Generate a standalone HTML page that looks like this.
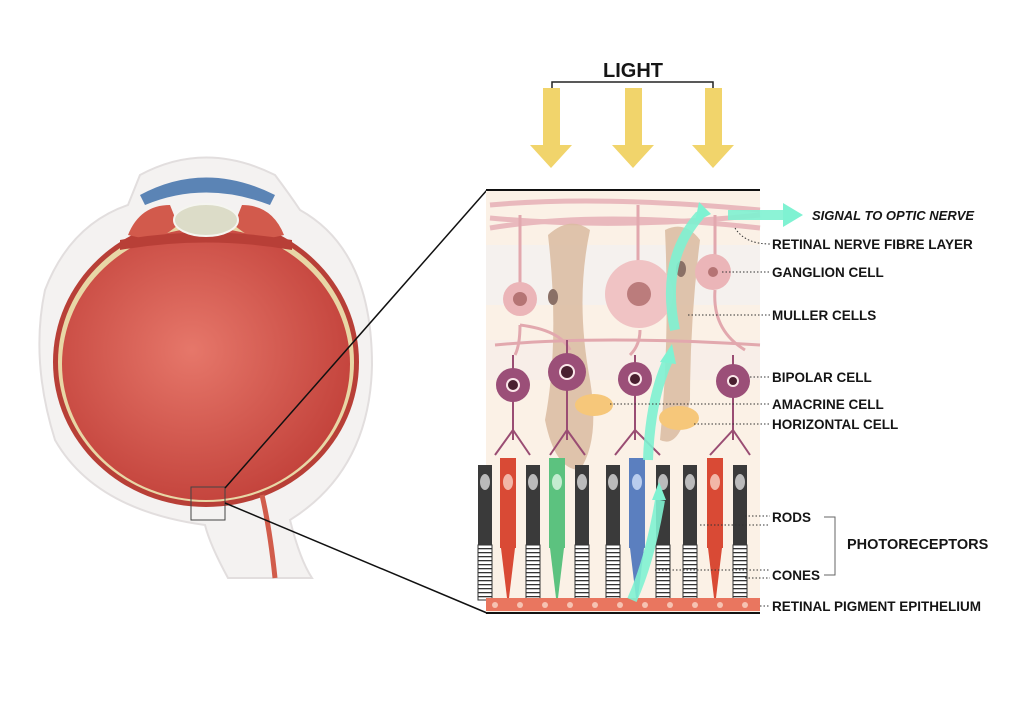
<!DOCTYPE html>
<html><head><meta charset="utf-8"><style>
html,body{margin:0;padding:0;background:#fff;width:1024px;height:724px;overflow:hidden}
svg{display:block}
text{font-family:"Liberation Sans",sans-serif;font-weight:bold;fill:#151515}
</style></head><body>
<svg width="1024" height="724" viewBox="0 0 1024 724">
<defs>
<radialGradient id="rg" cx="0.45" cy="0.45" r="0.6"><stop offset="0" stop-color="#e6776a"/><stop offset="1" stop-color="#c2413a"/></radialGradient>
<pattern id="st" width="10" height="4" patternUnits="userSpaceOnUse"><rect width="10" height="4" fill="#fff"/><rect y="0" width="10" height="1.3" fill="#333"/></pattern>
</defs>
<!-- eye outer -->
<path d="M140,175 Q205,140 275,175 Q290,195 300,210 Q372,250 372,365 Q370,470 290,520 Q300,560 312,578 L228,578 Q210,545 205,525 Q95,510 55,440 Q30,360 45,290 Q70,225 128,205 Z" fill="#f4f2f1" stroke="#e2dede" stroke-width="2"/>
<ellipse cx="206" cy="362" rx="153" ry="145" fill="#b83f37"/>
<ellipse cx="206" cy="362" rx="148" ry="140" fill="#e8d7a6"/>
<ellipse cx="206" cy="364" rx="144" ry="136" fill="url(#rg)"/>
<!-- front -->
<path d="M140,195 Q205,160 275,195 L270,205 Q205,180 145,205 Z" fill="#5b84b5"/>
<path d="M128,235 Q140,205 170,205 L178,225 Q160,240 150,240 Z" fill="#d25a4c"/>
<path d="M284,235 Q272,205 242,205 L234,225 Q252,240 262,240 Z" fill="#d25a4c"/>
<path d="M120,240 Q206,225 292,240 L292,250 Q206,235 120,250Z" fill="#b83f37"/>
<ellipse cx="206" cy="220" rx="32" ry="16" fill="#dcdcc8" stroke="#f5f5f0" stroke-width="2"/>
<path d="M262,495 Q270,530 275,578" stroke="#d15c4b" stroke-width="5" fill="none"/>
<rect x="191" y="487" width="34" height="33" fill="none" stroke="#444" stroke-width="1"/>
<line x1="225" y1="488" x2="487" y2="190" stroke="#111" stroke-width="1.5"/>
<line x1="225" y1="503" x2="487" y2="613" stroke="#111" stroke-width="1.5"/>
<!-- light -->
<text x="633" y="77" font-size="20" text-anchor="middle">LIGHT</text>
<path d="M552,88 V82 H713 V88" stroke="#222" stroke-width="1.5" fill="none"/>
<g fill="#f1d46b">
<path d="M543,88 h17 v57 h12 l-21,23 l-21,-23 h13z"/>
<path d="M625,88 h17 v57 h12 l-21,23 l-21,-23 h13z"/>
<path d="M705,88 h17 v57 h12 l-21,23 l-21,-23 h13z"/>
</g>
<!-- panel -->
<rect x="486" y="191" width="274" height="421" fill="#fbf1e6"/>
<rect x="486" y="245" width="274" height="60" fill="#f5f1ee"/>
<rect x="486" y="340" width="274" height="40" fill="#f8eee8"/>
<line x1="486" y1="190" x2="760" y2="190" stroke="#111" stroke-width="2"/>
<line x1="486" y1="613" x2="760" y2="613" stroke="#111" stroke-width="2"/>
<!-- nerve fibres -->
<g stroke="#e9b9bd" stroke-width="5" fill="none">
<path d="M490,205 Q600,195 760,210"/><path d="M490,218 Q620,230 760,215"/><path d="M490,228 Q600,210 760,228"/>
</g>
<!-- muller -->
<g fill="#d9bba0" opacity="0.85">
<path d="M548,235 Q570,215 590,230 Q575,300 590,380 Q600,440 580,470 Q555,470 545,420 Q560,340 548,235Z"/>
<path d="M665,230 Q685,220 700,240 Q690,320 690,400 Q680,450 660,440 Q670,340 665,230Z"/>
</g>
<ellipse cx="553" cy="297" rx="5" ry="8" fill="#8a7066"/>
<ellipse cx="681" cy="269" rx="5" ry="8" fill="#8a7066"/>
<!-- ganglion -->
<g stroke="#e2a8ae" stroke-width="3" fill="none">
<path d="M520,300 V215"/><path d="M638,280 V205"/><path d="M715,270 V215"/>
<path d="M520,325 Q520,345 515,355 M520,325 Q560,330 570,350 M640,330 Q640,345 630,355 M715,290 Q712,330 745,350"/>
<path d="M495,345 Q600,335 760,345"/>
</g>
<circle cx="520" cy="299" r="17" fill="#ebb5b8"/><circle cx="520" cy="299" r="7" fill="#b57474"/>
<circle cx="639" cy="294" r="34" fill="#f0c3c4"/><circle cx="639" cy="294" r="12" fill="#bb7c7c"/>
<circle cx="713" cy="272" r="18" fill="#ebb5b8"/><circle cx="713" cy="272" r="5" fill="#b57474"/>
<!-- bipolar -->
<g stroke="#9a4d73" stroke-width="2" fill="none">
<path d="M513,355 V440 M567,340 V440 M635,355 V440 M733,355 V440"/>
<path d="M513,430 L495,455 M513,430 L530,455 M567,430 L550,455 M567,430 L585,455 M635,430 L615,455 M635,430 L660,455 M733,430 L710,455 M733,430 L750,455"/>
</g>
<g fill="#9b4f78">
<circle cx="513" cy="385" r="17"/><circle cx="567" cy="372" r="19"/><circle cx="635" cy="379" r="17"/><circle cx="733" cy="381" r="17"/>
</g>
<g fill="#fbe7ea"><circle cx="513" cy="385" r="7"/><circle cx="567" cy="372" r="8"/><circle cx="635" cy="379" r="7"/><circle cx="733" cy="381" r="6"/></g>
<g fill="#4a2030"><circle cx="513" cy="385" r="5"/><circle cx="567" cy="372" r="6"/><circle cx="635" cy="379" r="5"/><circle cx="733" cy="381" r="4"/></g>
<ellipse cx="594" cy="405" rx="19" ry="11" fill="#f6c77a"/>
<ellipse cx="679" cy="418" rx="20" ry="12" fill="#f6c77a"/>
<!-- photoreceptors -->
<g>
<g transform="translate(485,0)"><rect x="-7" y="465" width="14" height="80" fill="#3a3a3a"/><ellipse cx="0" cy="482" rx="5" ry="8" fill="#bbb"/><rect x="-7" y="545" width="14" height="55" fill="url(#st)" stroke="#333"/></g>
<g transform="translate(508,0)"><rect x="-8" y="458" width="16" height="90" fill="#d94a35"/><ellipse cx="0" cy="482" rx="5" ry="8" fill="#f2b7a8"/><path d="M-7,548 h14 l-6,50 h-2z" fill="#d94a35"/></g>
<g transform="translate(533,0)"><rect x="-7" y="465" width="14" height="80" fill="#3a3a3a"/><ellipse cx="0" cy="482" rx="5" ry="8" fill="#bbb"/><rect x="-7" y="545" width="14" height="55" fill="url(#st)" stroke="#333"/></g>
<g transform="translate(557,0)"><rect x="-8" y="458" width="16" height="90" fill="#5cc27f"/><ellipse cx="0" cy="482" rx="5" ry="8" fill="#c3ecd0"/><path d="M-7,548 h14 l-6,50 h-2z" fill="#5cc27f"/></g>
<g transform="translate(582,0)"><rect x="-7" y="465" width="14" height="80" fill="#3a3a3a"/><ellipse cx="0" cy="482" rx="5" ry="8" fill="#bbb"/><rect x="-7" y="545" width="14" height="55" fill="url(#st)" stroke="#333"/></g>
<g transform="translate(613,0)"><rect x="-7" y="465" width="14" height="80" fill="#3a3a3a"/><ellipse cx="0" cy="482" rx="5" ry="8" fill="#bbb"/><rect x="-7" y="545" width="14" height="55" fill="url(#st)" stroke="#333"/></g>
<g transform="translate(637,0)"><rect x="-8" y="458" width="16" height="90" fill="#5b7fbf"/><ellipse cx="0" cy="482" rx="5" ry="8" fill="#b9cdee"/><path d="M-7,548 h14 l-6,50 h-2z" fill="#5b7fbf"/></g>
<g transform="translate(663,0)"><rect x="-7" y="465" width="14" height="80" fill="#3a3a3a"/><ellipse cx="0" cy="482" rx="5" ry="8" fill="#bbb"/><rect x="-7" y="545" width="14" height="55" fill="url(#st)" stroke="#333"/></g>
<g transform="translate(690,0)"><rect x="-7" y="465" width="14" height="80" fill="#3a3a3a"/><ellipse cx="0" cy="482" rx="5" ry="8" fill="#bbb"/><rect x="-7" y="545" width="14" height="55" fill="url(#st)" stroke="#333"/></g>
<g transform="translate(715,0)"><rect x="-8" y="458" width="16" height="90" fill="#d94a35"/><ellipse cx="0" cy="482" rx="5" ry="8" fill="#f2b7a8"/><path d="M-7,548 h14 l-6,50 h-2z" fill="#d94a35"/></g>
<g transform="translate(740,0)"><rect x="-7" y="465" width="14" height="80" fill="#3a3a3a"/><ellipse cx="0" cy="482" rx="5" ry="8" fill="#bbb"/><rect x="-7" y="545" width="14" height="55" fill="url(#st)" stroke="#333"/></g>
</g>
<!-- RPE -->
<rect x="486" y="598" width="274" height="13" fill="#e9765f"/>
<g fill="#f6c3b2"><circle cx="495" cy="605" r="3"/><circle cx="520" cy="605" r="3"/><circle cx="545" cy="605" r="3"/><circle cx="570" cy="605" r="3"/><circle cx="595" cy="605" r="3"/><circle cx="620" cy="605" r="3"/><circle cx="645" cy="605" r="3"/><circle cx="670" cy="605" r="3"/><circle cx="695" cy="605" r="3"/><circle cx="720" cy="605" r="3"/><circle cx="745" cy="605" r="3"/></g>
<!-- signal arrow -->
<g fill="none" stroke="#7ff2d2" stroke-width="10" opacity="0.9">
<path d="M632,600 Q650,560 660,500"/>
<path d="M648,460 Q650,400 668,360"/>
<path d="M675,330 Q660,260 700,215"/>
<path d="M728,215 H785"/>
</g>
<g fill="#7ff2d2"><path d="M652,500 l14,0 l-7,-18z"/><path d="M660,362 l16,2 l-4,-20z"/><path d="M695,222 l16,-8 l-12,-12z"/><path d="M783,203 l20,12 l-20,12z"/></g>
<!-- labels -->
<g font-size="13.5">
<text x="812" y="220" font-style="italic" font-size="13">SIGNAL TO OPTIC NERVE</text>
<text x="772" y="249">RETINAL NERVE FIBRE LAYER</text>
<text x="772" y="277">GANGLION CELL</text>
<text x="772" y="320">MULLER CELLS</text>
<text x="772" y="382">BIPOLAR CELL</text>
<text x="772" y="409">AMACRINE CELL</text>
<text x="772" y="429">HORIZONTAL CELL</text>
<text x="772" y="522">RODS</text>
<text x="847" y="549" font-size="14.5">PHOTORECEPTORS</text>
<text x="772" y="580">CONES</text>
<text x="772" y="611">RETINAL PIGMENT EPITHELIUM</text>
</g>
<g stroke="#333" stroke-width="1" stroke-dasharray="1.5,2" fill="none">
<path d="M735,228 Q745,244 770,244"/>
<path d="M722,272 H770"/><path d="M688,315 H770"/><path d="M750,377 H770"/>
<path d="M610,404 H770"/><path d="M694,424 H770"/>
<path d="M745,516 H770 M700,525 H770"/><path d="M655,570 H770 M745,578 H770"/><path d="M760,606 H770"/>
</g>
<path d="M824,517 H835 V575 H824" stroke="#666" fill="none"/>
</svg>
</body></html>
